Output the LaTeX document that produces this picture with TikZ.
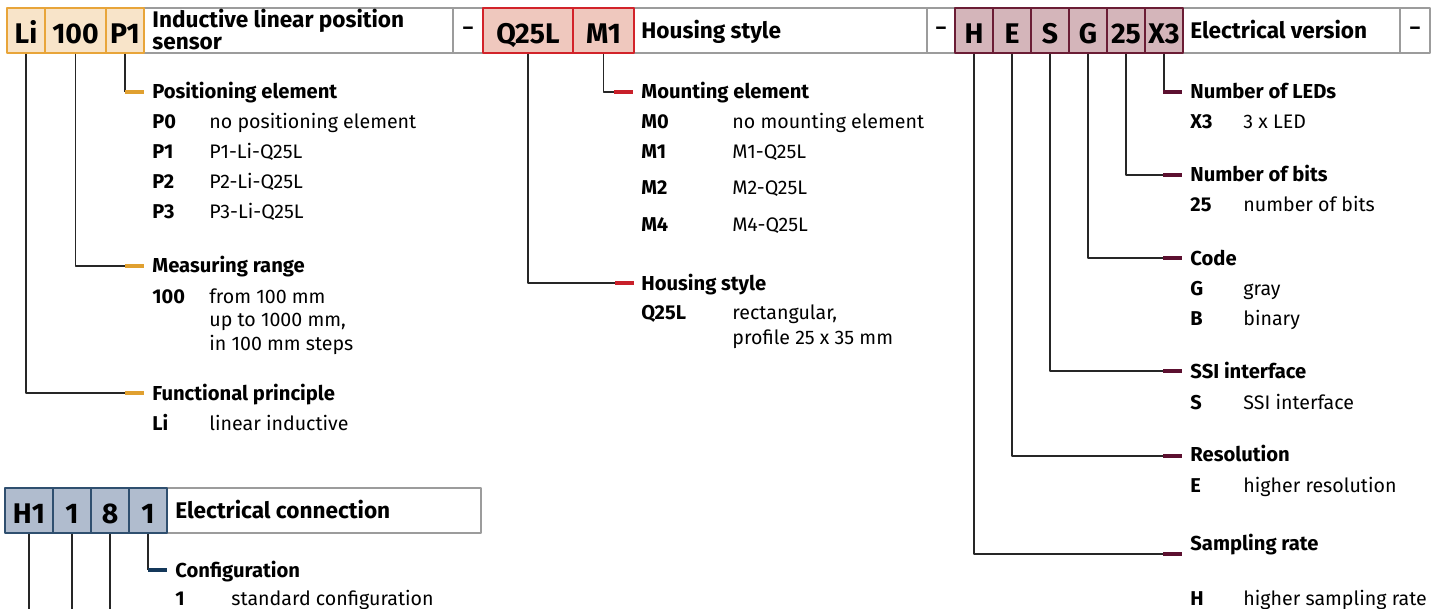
\documentclass[tikz,border=0pt]{standalone}
\usepackage{fontspec}
\setmainfont{Fira Sans}
\definecolor{framegray}{HTML}{9C9C9C}
\definecolor{orline}{HTML}{E8A53A}
\definecolor{orfill}{HTML}{F8E4C9}
\definecolor{ortick}{HTML}{E0A030}
\definecolor{rdline}{HTML}{D2232A}
\definecolor{rdfill}{HTML}{EFC8BE}
\definecolor{rdtick}{HTML}{C8202A}
\definecolor{mrline}{HTML}{6B1D35}
\definecolor{mrfill}{HTML}{D4B5BA}
\definecolor{mrtick}{HTML}{5C1030}
\definecolor{blline}{HTML}{2F4F6F}
\definecolor{blfill}{HTML}{B0BCCE}
\definecolor{bltick}{HTML}{14385A}
\begin{document}
\begin{tikzpicture}[x=0.5pt, y=-0.5pt, line join=round,
	font=\fontsize{9.8}{11.75}\selectfont,
	wire/.style={line width=0.55pt, black!85},
	stub/.style={line width=2.1pt, #1},
	greybox/.style={draw=framegray, line width=0.7pt, inner sep=0pt, minimum height=22.5pt},
	codebox/.style={greybox, text depth=0pt, text height=13pt, font=\bfseries\fontsize{14.2}{15}\selectfont},
	obox/.style={codebox, draw=orline, fill=orfill},
	rbox/.style={codebox, draw=rdline, fill=rdfill},
	mbox/.style={codebox, draw=mrline, fill=mrfill},
	bbox/.style={codebox, draw=blline, fill=blfill},
	boxtitle/.style={anchor=base west, inner sep=0pt, align=left, font=\bfseries\fontsize{11.3}{11}\selectfont},
	heading/.style={anchor=base west, inner sep=0pt, font=\bfseries\fontsize{10.1}{11}\selectfont},
	entry/.style={anchor=base west, inner sep=0pt, align=left}]
	\useasboundingbox (0,0) rectangle (1438,609);
	% title boxes and dash boxes
	\foreach \n/\a/\b/\y in {t1/144/453/30.5, d1/453/483/30.5, t2/634/927/30.5, d2/927/955/30.5,
		t3/1183/1400/30.5, d3/1400/1430/30.5, t4/167/481/510.5}
	\node[greybox, minimum width=(\b-\a)*0.5pt] (\n) at ({(\a+\b)/2},\y) {};
	\foreach \n in {d1,d2,d3}
	\node[font=\bfseries] (\n-sign) at (\n) {--};
	% last line of a wrapped text sits on the given point
	\node[boxtitle] (ti1) at (152,50) {Inductive linear position\\sensor};
	\node[boxtitle] (ti2) at (641,39) {Housing style};
	\node[boxtitle] (ti3) at (1190,39) {Electrical version};
	\node[boxtitle] (ti4) at (175,518) {Electrical connection};
	% code boxes
	\foreach \n/\t/\a/\b in {li/Li/7/45, range/100/45/106, pe/P1/106/144}
	\node[obox, minimum width=(\b-\a)*0.5pt] (\n) at ({(\a+\b)/2},30.5) {\t};
	\foreach \n/\t/\a/\b in {hs/Q25L/483/573, me/M1/573/634}
	\node[rbox, minimum width=(\b-\a)*0.5pt] (\n) at ({(\a+\b)/2},30.5) {\t};
	\foreach \n/\t/\a/\b in {sr/H/955/993, res/E/993/1031, ssi/S/1031/1069, cd/G/1069/1107,
		bits/25/1107/1145, led/X3/1145/1183}
	\node[mbox, minimum width=(\b-\a)*0.5pt] (\n) at ({(\a+\b)/2},30.5) {\t};
	\foreach \n/\t/\a/\b in {plug/H1/5/53, ca/1/53/91, cb/8/91/129, cfg/1/129/167}
	\node[bbox, minimum width=(\b-\a)*0.5pt] (\n) at ({(\a+\b)/2},510.5) {\t};
	% ends of the connectors
	\path
	(125,92) coordinate (dpos)
	(125,266) coordinate (dmeas)
	(125,393) coordinate (dfunc)
	(614,92) coordinate (dmount)
	(615,283) coordinate (dhouse)
	(1163,92) coordinate (dled)
	(1163,175) coordinate (dbits)
	(1163,258) coordinate (dcode)
	(1163,371) coordinate (dssi)
	(1163,456) coordinate (dres)
	(1163,554) coordinate (drate)
	(148,570) coordinate (dconf)
	;
	\foreach \b/\d in {pe/dpos, range/dmeas, li/dfunc, me/dmount, hs/dhouse, led/dled,
		bits/dbits, cd/dcode, ssi/dssi, res/dres, sr/drate, cfg/dconf}
	\draw[wire] (\b.south) |- (\d);
	\foreach \b in {plug,ca,cb}
	\draw[wire] (\b.south) -- ++(0,90);
	\foreach \d in {dpos,dmeas,dfunc}
	\draw[stub=ortick] (\d) -- ++(19,0);
	\foreach \d in {dmount,dhouse}
	\draw[stub=rdtick] (\d) -- ++(19,0);
	\foreach \d in {dled,dbits,dcode,dssi,dres,drate}
	\draw[stub=mrtick] (\d) -- ++(19,0);
	\draw[stub=bltick] (dconf) -- ++(19,0);
	% left group
	\node[heading] (pos) at (152,99) {Positioning element};
	\node[heading] (meas) at (152,272.5) {Measuring range};
	\node[heading] (func) at (152,400) {Functional principle};
	\foreach \c/\d/\y/\z in {P0/no positioning element/129/129, P1/P1-Li-Q25L/159/159,
		P2/P2-Li-Q25L/189/189, P3/P3-Li-Q25L/219/219, 100/{from 100 mm\\up to 1000 mm,\\in 100 mm steps}/303/350,
		Li/linear inductive/430/430}
	{
		\node[entry, font=\bfseries] (c\c) at (152,\y) {\c};
		\node[entry] (e\c) at (209,\z) {\d};
	}
	% middle group
	\node[heading] (mount) at (641,99) {Mounting element};
	\node[heading] (house) at (641,290) {Housing style};
	\foreach \c/\d/\y/\z in {M0/no mounting element/129/129, M1/M1-Q25L/159/159, M2/M2-Q25L/195/195,
		M4/M4-Q25L/231/231, Q25L/{rectangular,\\profile 25 x 35 mm}/319/344}
	{
		\node[entry, font=\bfseries] (c\c) at (641,\y) {\c};
		\node[entry, font=\fontsize{9.8}{12.5}\selectfont] (e\c) at (732,\z) {\d};
	}
	% right group
	\foreach \n/\t/\y in {hled/Number of LEDs/99, hbits/Number of bits/182, hcode/Code/265,
		hssi/SSI interface/378, hres/Resolution/461, hrate/Sampling rate/550}
	\node[heading] (\n) at (1190,\y) {\t};
	\foreach \c/\d/\y in {X3/3 x LED/129, 25/number of bits/212, G/gray/295, B/binary/325,
		S/SSI interface/409, E/higher resolution/492, H/higher sampling rate/605}
	{
		\node[entry, font=\bfseries] (c\c) at (1190,\y) {\c};
		\node[entry] (e\c) at (1243,\y) {\d};
	}
	% bottom group
	\node[heading] (conf) at (175,577) {Configuration};
	\node[entry, font=\bfseries] (cone) at (175,605) {1};
	\node[entry] (eone) at (231,605) {standard configuration};
\end{tikzpicture}
\end{document}
